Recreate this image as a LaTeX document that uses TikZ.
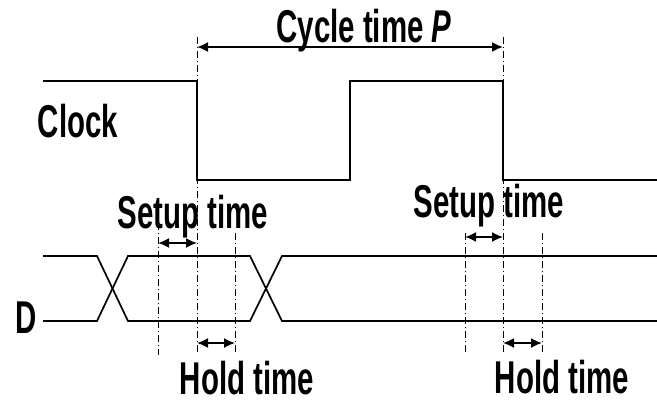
\documentclass[tikz,border=0pt]{standalone}
\usepackage{fontspec}
\usepackage{graphicx}
\setmainfont{Liberation Sans}
\usetikzlibrary{arrows.meta}
\newcommand\narrowtxt[1]{\scalebox{0.64}[1]{#1}}
\begin{document}
\begin{tikzpicture}[x=1pt,y=-1pt,
  sig/.style={line width=1.7pt, line join=miter},
  guide/.style={line width=0.8pt, dash pattern=on 7pt off 3pt on 1pt off 3pt},
  dim/.style={line width=1.7pt, {Latex[length=11pt,width=10pt]}-{Latex[length=11pt,width=10pt]}},
  lbl/.style={inner sep=0pt, anchor=base, font=\fontsize{46}{52}\selectfont\bfseries}]
\useasboundingbox (0,0) rectangle (657,404);
\fill[white] (0,0) rectangle (657,404);
% clock waveform
\draw[sig] (43,81) -- (197,81) -- (197,180) -- (350,180) -- (350,81) -- (503,81) -- (503,180) -- (657,180);
% D waveform
\draw[sig] (43,256) -- (97,256) -- (128,321) -- (250,321) -- (282,256) -- (657,256);
\draw[sig] (43,321) -- (97,321) -- (128,256) -- (250,256) -- (282,321) -- (657,321);
% guide lines
\coordinate (g1t) at (197,37);  \coordinate (g1b) at (197,355);
\coordinate (g2t) at (503,37);  \coordinate (g2b) at (503,355);
\coordinate (s1t) at (158,223); \coordinate (s1b) at (158,355);
\coordinate (h1t) at (235,233); \coordinate (h1b) at (235,355);
\coordinate (s2t) at (465,233); \coordinate (s2b) at (465,355);
\coordinate (h2t) at (542,233); \coordinate (h2b) at (542,355);
\foreach \a in {g1,g2,s1,h1,s2,h2} \draw[guide] (\a t) -- (\a b);
% dimension arrows
\coordinate (cA) at (197,47);  \coordinate (cB) at (503,47);
\coordinate (su1A) at (158,243); \coordinate (su1B) at (197,243);
\coordinate (ho1A) at (197,343); \coordinate (ho1B) at (235,343);
\coordinate (su2A) at (465,237); \coordinate (su2B) at (503,237);
\coordinate (ho2A) at (503,343); \coordinate (ho2B) at (542,343);
\draw[dim] (cA) -- (cB);
\draw[dim] (su1A) -- (su1B);
\draw[dim] (ho1A) -- (ho1B);
\draw[dim] (su2A) -- (su2B);
\draw[dim] (ho2A) -- (ho2B);
% labels
\node[lbl] (cyc) at (364,43) {\narrowtxt{Cycle time \textit{P}}};
\node[lbl] (clk) at (78,138) {\narrowtxt{Clock}};
\node[lbl] (dd) at (26,333) {\narrowtxt{D}};
\node[lbl] (su1) at (193,228) {\narrowtxt{Setup time}};
\node[lbl] (ho1) at (247,394) {\narrowtxt{Hold time}};
\node[lbl] (su2) at (489,218) {\narrowtxt{Setup time}};
\node[lbl] (ho2) at (562,393) {\narrowtxt{Hold time}};
\end{tikzpicture}
\end{document}
